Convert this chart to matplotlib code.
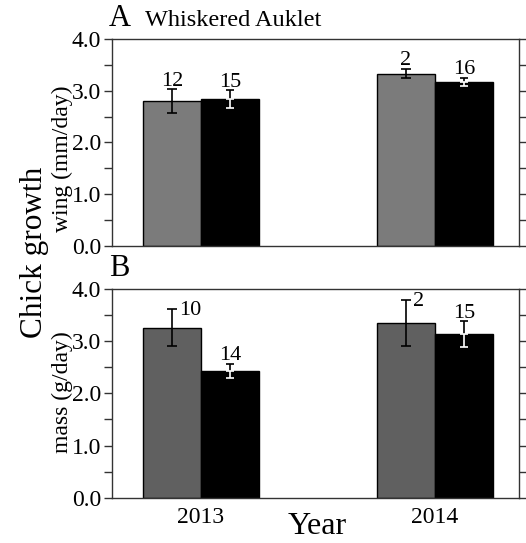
import matplotlib
matplotlib.use("Agg")
import matplotlib.pyplot as plt
from matplotlib.ticker import MultipleLocator

plt.rcParams['font.family'] = ['Liberation Serif', 'DejaVu Serif']

years = ["2013", "2014"]
# Panel A: wing growth (mm/day)
wing_gray = [2.80, 3.33]
wing_gray_se = [0.23, 0.09]
wing_black = [2.84, 3.17]
wing_black_se = [0.17, 0.08]
wing_n_gray = ["12", "2"]
wing_n_black = ["15", "16"]
# Panel B: mass growth (g/day)
mass_gray = [3.26, 3.34]
mass_gray_se = [0.35, 0.44]
mass_black = [2.43, 3.13]
mass_black_se = [0.14, 0.25]
mass_n_gray = ["10", "2"]
mass_n_black = ["14", "15"]

fig = plt.figure(figsize=(5.26, 5.43), dpi=100)
L, W = 112/526, 407/526
axA = fig.add_axes([L, 1-245.7/543, W, 206.7/543])
axB = fig.add_axes([L, 1-497.7/543, W, 208.7/543])

w = 0.248
xs = [0, 1]


def draw(ax, g, gse, b, bse, gcol, ng, nb, nstyle):
    xg = [x - w/2 for x in xs]
    xb = [x + w/2 for x in xs]
    ax.bar(xg, g, width=w, color=gcol, edgecolor='black', linewidth=1.0, zorder=2)
    ax.bar(xb, b, width=w, color='black', edgecolor='black', linewidth=1.0, zorder=2)
    ax.errorbar(xg, g, yerr=gse, fmt='none', ecolor='black', elinewidth=1.2,
                capsize=3.5, capthick=1.2, zorder=3)
    ax.errorbar(xb, b, yerr=bse, fmt='none', ecolor='black', elinewidth=1.2,
                capsize=3.0, capthick=1.2, zorder=3)
    # part inside black bars drawn in white
    ax.errorbar(xb, [v - s/2 for v, s in zip(b, bse)], yerr=[s/2 for s in bse],
                fmt='none', ecolor='white', elinewidth=1.2, capsize=3.0,
                capthick=1.2, zorder=4)
    for i in range(2):
        if nstyle[i] == 'right':
            ax.text(xg[i] + 0.03, g[i] + gse[i] - 0.02, ng[i], ha='left',
                    va='center', fontsize=16)
        else:
            ax.text(xg[i], g[i] + gse[i] + 0.07, ng[i], ha='center',
                    va='baseline', fontsize=16)
        ax.text(xb[i], b[i] + bse[i] + 0.07, nb[i], ha='center', va='baseline',
                fontsize=16)
    ax.set_ylim(0, 4.0)
    ax.set_xlim(-0.38, 1.359)
    ax.yaxis.set_major_locator(MultipleLocator(1.0))
    ax.yaxis.set_minor_locator(MultipleLocator(0.5))
    ax.yaxis.set_major_formatter(plt.FuncFormatter(lambda v, p: f"{v:.1f}"))
    ax.tick_params(axis='y', which='both', direction='out', length=6, width=1.0,
                   labelsize=17, right=True, left=True, colors='#333333',
                   labelcolor='black', pad=2)
    ax.tick_params(axis='x', length=0, labelsize=17, pad=7)
    for s in ax.spines.values():
        s.set_linewidth(1.0)
        s.set_color('#333333')
    ax.set_xticks(xs)


draw(axA, wing_gray, wing_gray_se, wing_black, wing_black_se, '#7b7b7b',
     wing_n_gray, wing_n_black, ['top', 'top'])
axA.set_xticklabels([])
draw(axB, mass_gray, mass_gray_se, mass_black, mass_black_se, '#606060',
     mass_n_gray, mass_n_black, ['right', 'right'])
axB.set_xticklabels(years)

fig.text(109/526, 1-18/543, "A", fontsize=22, ha='left', va='center')
fig.text(145/526, 1-21/543, "Whiskered Auklet", fontsize=17.5, ha='left', va='center')
fig.text(109/526, 1-269/543, "B", fontsize=22, ha='left', va='center')
fig.text(35/526, 1-252/543, "Chick growth", fontsize=22.5, rotation=90,
         ha='center', va='center')
fig.text(62/526, 1-159/543, "wing (mm/day)", fontsize=17, rotation=90,
         ha='center', va='center')
fig.text(62/526, 1-392/543, "mass (g/day)", fontsize=17, rotation=90,
         ha='center', va='center')
fig.text(317/526, 1-527/543, "Year", fontsize=23, ha='center', va='center')

fig.savefig("out.png", dpi=100)
